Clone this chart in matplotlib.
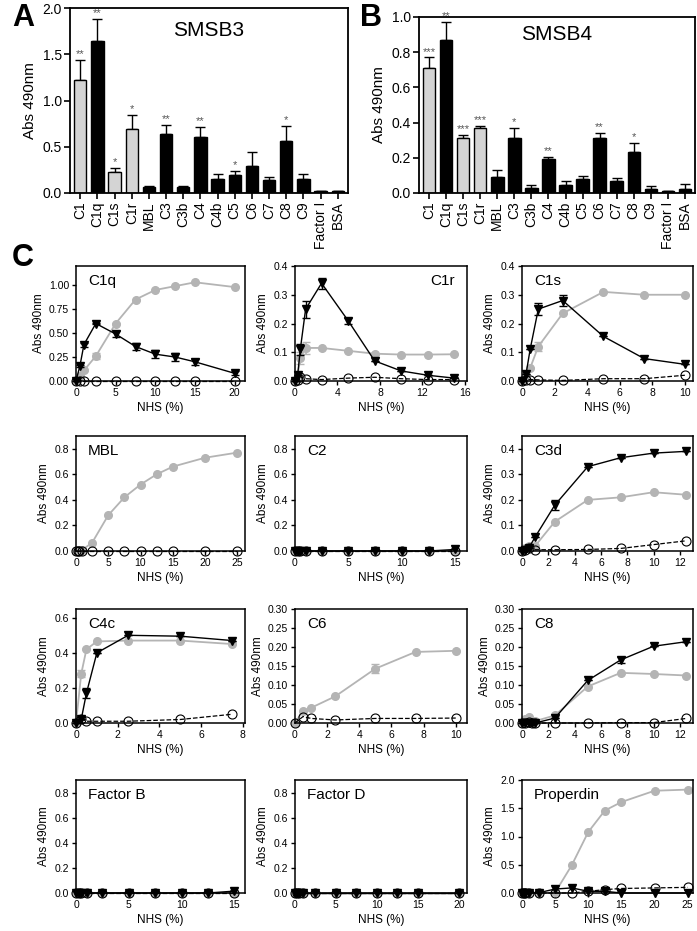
import matplotlib
matplotlib.use("Agg")
import matplotlib.pyplot as plt
import numpy as np

plt.rcParams['font.family'] = ['Liberation Sans', 'DejaVu Sans']

# ---- panels A/B: ELISA bars ----
proteins = ['C1', 'C1q', 'C1s', 'C1r', 'MBL', 'C3', 'C3b', 'C4', 'C4b', 'C5',
            'C6', 'C7', 'C8', 'C9', 'Factor I', 'BSA']
light = ['C1', 'C1s', 'C1r']

smsb3 = [1.22, 1.64, 0.23, 0.69, 0.07, 0.64, 0.07, 0.61, 0.155, 0.19,
         0.29, 0.14, 0.56, 0.155, 0.02, 0.025]
smsb3_err = [0.22, 0.24, 0.04, 0.15, 0.01, 0.09, 0.01, 0.10, 0.05, 0.045,
             0.15, 0.03, 0.16, 0.055, 0.0, 0.0]
smsb3_sig = ['**', '**', '*', '*', '', '**', '', '**', '', '*',
             '', '', '*', '', '', '']

smsb4 = [0.71, 0.87, 0.31, 0.37, 0.09, 0.31, 0.03, 0.195, 0.047, 0.078,
         0.31, 0.068, 0.235, 0.025, 0.01, 0.025]
smsb4_err = [0.06, 0.10, 0.02, 0.01, 0.04, 0.06, 0.015, 0.01, 0.021, 0.02,
             0.03, 0.019, 0.05, 0.015, 0.0, 0.025]
smsb4_sig = ['***', '**', '***', '***', '', '*', '', '**', '', '',
             '**', '', '*', '', '', '']

# ---- panel C: titration with NHS (%) ----
# each panel: x, black triangles, grey circles, open circles (None = not shown)
c1q_x = [0, 0.5, 1, 2.5, 5, 7.5, 10, 12.5, 15, 20]
c1q_tri = [0, 0.16, 0.38, 0.60, 0.49, 0.36, 0.28, 0.25, 0.20, 0.08]
c1q_tri_err = [0, 0.01, 0.02, 0.01, 0.03, 0.04, 0.04, 0.04, 0.03, 0.02]
c1q_grey = [0, 0.05, 0.11, 0.26, 0.60, 0.85, 0.95, 0.99, 1.03, 0.98]
c1q_grey_err = [0, 0, 0.01, 0.03, 0.01, 0, 0, 0, 0, 0]
c1q_open = [0, 0, 0, 0, 0, 0, 0, 0, 0, 0]

c1r_x = [0, 0.25, 0.5, 1, 2.5, 5, 7.5, 10, 12.5, 15]
c1r_tri = [0, 0.02, 0.11, 0.25, 0.34, 0.21, 0.07, 0.035, 0.02, 0.01]
c1r_tri_err = [0, 0, 0.02, 0.03, 0.02, 0.01, 0, 0, 0, 0]
c1r_grey = [0, 0.02, 0.08, 0.115, 0.115, 0.105, 0.095, 0.092, 0.092, 0.093]
c1r_grey_err = [0, 0, 0.02, 0.02, 0, 0, 0, 0, 0, 0]
c1r_open = [0, 0.003, 0.015, 0.008, 0.005, 0.01, 0.013, 0.008, 0.005, 0.005]

c1s_x = [0, 0.25, 0.5, 1, 2.5, 5, 7.5, 10]
c1s_tri = [0, 0.025, 0.11, 0.25, 0.28, 0.155, 0.078, 0.058]
c1s_tri_err = [0, 0, 0, 0.02, 0.02, 0, 0, 0]
c1s_grey = [0, 0.01, 0.045, 0.12, 0.235, 0.31, 0.30, 0.30]
c1s_grey_err = [0, 0, 0, 0.015, 0, 0, 0, 0]
c1s_open = [0, 0.005, 0.005, 0.004, 0.002, 0.008, 0.008, 0.02]

mbl_x = [0, 0.25, 0.5, 1, 2.5, 5, 7.5, 10, 12.5, 15, 20, 25]
mbl_grey = [0, 0, 0.005, 0.01, 0.065, 0.28, 0.42, 0.52, 0.60, 0.66, 0.73, 0.77]
mbl_open = [0, 0, 0, 0, 0, 0, 0, 0, 0, 0, 0, 0]

c2_x = [0, 0.25, 0.5, 1, 2.5, 5, 7.5, 10, 12.5, 15]
c2_tri = [0, 0, 0, 0, 0, 0, 0, 0, 0, 0.012]
c2_grey = [0, 0, 0, 0, 0, 0, 0, 0, 0, 0]
c2_open = [0, 0, 0, 0, 0, 0, 0, 0, 0, 0]

c3d_x = [0, 0.25, 0.5, 1, 2.5, 5, 7.5, 10, 12.5]
c3d_tri = [0, 0.003, 0.01, 0.055, 0.18, 0.33, 0.365, 0.383, 0.39]
c3d_tri_err = [0, 0, 0, 0, 0.02, 0, 0, 0, 0]
c3d_grey = [0, 0.01, 0.02, 0.02, 0.115, 0.20, 0.21, 0.23, 0.22]
c3d_open = [0, 0.005, 0.01, 0.005, 0.005, 0.006, 0.01, 0.025, 0.04]

c4c_x = [0, 0.25, 0.5, 1, 2.5, 5, 7.5]
c4c_tri = [0, 0.02, 0.17, 0.40, 0.50, 0.495, 0.47]
c4c_tri_err = [0, 0, 0.03, 0, 0, 0, 0]
c4c_grey = [0, 0.28, 0.42, 0.465, 0.47, 0.47, 0.45]
c4c_grey_err = [0, 0.02, 0, 0, 0, 0, 0]
c4c_open = [0, 0.025, 0.01, 0.01, 0.01, 0.02, 0.05]

c6_x = [0, 0.5, 1, 2.5, 5, 7.5, 10]
c6_grey = [0, 0.032, 0.04, 0.07, 0.143, 0.187, 0.19]
c6_grey_err = [0, 0, 0, 0, 0.012, 0, 0]
c6_open = [0, 0.017, 0.012, 0.008, 0.012, 0.012, 0.013]

c8_x = [0, 0.25, 0.5, 0.75, 1, 2.5, 5, 7.5, 10, 12.5]
c8_tri = [0, 0, 0, 0, 0, 0.013, 0.112, 0.166, 0.202, 0.214]
c8_tri_err = [0, 0, 0, 0, 0, 0, 0, 0.008, 0, 0]
c8_grey = [0, 0.01, 0.016, 0.005, 0.005, 0.02, 0.096, 0.132, 0.129, 0.125]
c8_open = [0, 0, 0.002, 0, 0, 0, 0, 0.001, 0.001, 0.012]

fb_x = [0, 0.25, 0.5, 1, 2.5, 5, 7.5, 10, 12.5, 15]
fb_tri = [0, 0, 0, 0, 0, 0, 0, 0, 0, 0.015]
fb_grey = [0, 0, 0, 0, 0, 0, 0, 0, 0, 0]
fb_open = [0, 0, 0, 0, 0, 0, 0, 0, 0, 0]

fd_x = [0, 0.25, 0.5, 1, 2.5, 5, 7.5, 10, 12.5, 15, 20]
fd_tri = [0, 0, 0, 0, 0, 0, 0, 0, 0, 0, 0]
fd_grey = [0, 0, 0, 0, 0, 0, 0, 0, 0, 0, 0]
fd_open = [0, 0, 0, 0, 0, 0, 0, 0, 0, 0, 0]

prop_x = [0, 0.25, 0.5, 1, 2.5, 5, 7.5, 10, 12.5, 15, 20, 25]
prop_tri = [0, 0, 0, 0, 0.005, 0.07, 0.09, 0.03, 0.03, 0, 0, 0]
prop_grey = [0, 0, 0, 0, 0, 0.01, 0.49, 1.08, 1.46, 1.61, 1.81, 1.83]
prop_open = [0, 0, 0, 0, 0, 0, 0, 0.03, 0.06, 0.08, 0.09, 0.10]

GREY = '#b4b4b4'
BARGREY = '#d4d4d4'
W, H = 697, 931

fig = plt.figure(figsize=(W / 100, H / 100), dpi=100)


def px_axes(left, top, right, bottom):
    return fig.add_axes([left / W, 1 - bottom / H, (right - left) / W, (bottom - top) / H])


def bar_panel(ax, vals, errs, sig, title, ymax, yticks):
    x = np.arange(len(proteins))
    colors = [BARGREY if p in light else 'black' for p in proteins]
    ax.bar(x, vals, width=0.72, color=colors, edgecolor='black', linewidth=1.0, zorder=2)
    ax.errorbar(x, vals, yerr=[np.zeros(len(vals)), errs], fmt='none', ecolor='black',
                elinewidth=1.0, capsize=3.5, capthick=1.0, zorder=1)
    for xi, v, e, s in zip(x, vals, errs, sig):
        if s:
            ax.text(xi, v + e + ymax * 0.005, s, ha='center', va='bottom', fontsize=8,
                    color='#555555')
    ax.set_xlim(-0.6, len(proteins) - 0.4)
    ax.set_ylim(0, ymax)
    ax.set_yticks(yticks)
    ax.set_yticklabels(['%.1f' % t for t in yticks], fontsize=10)
    ax.set_xticks(x)
    ax.set_xticklabels(proteins, rotation=90, fontsize=10)
    ax.set_ylabel('Abs 490nm', fontsize=11)
    ax.text(0.5, 0.88 if ymax > 1 else 0.9, title, transform=ax.transAxes, ha='center',
            va='center', fontsize=15)
    for sp in ax.spines.values():
        sp.set_linewidth(1.3)
    ax.tick_params(direction='out', length=4, width=1.2, pad=2)


axA = px_axes(70, 8, 348, 193)
bar_panel(axA, smsb3, smsb3_err, smsb3_sig, 'SMSB3', 2.0, [0, 0.5, 1.0, 1.5, 2.0])
axB = px_axes(419, 17, 695, 193)
bar_panel(axB, smsb4, smsb4_err, smsb4_sig, 'SMSB4', 1.0, [0, 0.2, 0.4, 0.6, 0.8, 1.0])

fig.text(12 / W, 1 - 18 / H, 'A', fontsize=22, fontweight='bold', ha='left', va='center')
fig.text(360 / W, 1 - 18 / H, 'B', fontsize=22, fontweight='bold', ha='left', va='center')
fig.text(12 / W, 1 - 258 / H, 'C', fontsize=22, fontweight='bold', ha='left', va='center')


def line_panel(ax, name, x, tri=None, tri_err=None, grey=None, grey_err=None, opn=None,
               xmax=10, xticks=None, ymax=0.4, yticks=None, yfmt='%.1f', name_right=False):
    if grey is not None:
        ax.errorbar(x, grey, yerr=grey_err, color=GREY, marker='o', ms=5.5, mec=GREY,
                    lw=1.3, elinewidth=1.2, capsize=3, clip_on=False, zorder=2)
    if tri is not None:
        ax.errorbar(x, tri, yerr=tri_err, color='black', marker='v', ms=5.5, lw=1.0,
                    elinewidth=1.0, capsize=3, clip_on=False, zorder=3)
    if opn is not None:
        ax.plot(x, opn, color='black', ls='--', lw=0.9, marker='o', ms=6.5,
                mfc='none', mec='black', mew=0.8, clip_on=False, zorder=4)
    ax.set_xlim(0, xmax)
    ax.set_ylim(0, ymax)
    ax.set_xticks(xticks)
    ax.set_xticklabels([str(t) for t in xticks], fontsize=7.5)
    ax.set_yticks(yticks)
    ax.set_yticklabels([yfmt % t for t in yticks], fontsize=7.5)
    ax.set_xlabel('NHS (%)', fontsize=8.5, labelpad=3)
    ax.set_ylabel('Abs 490nm', fontsize=8.5, labelpad=3)
    for sp in ax.spines.values():
        sp.set_linewidth(1.1)
    ax.tick_params(direction='out', length=3, width=1.0, pad=2)
    if name_right:
        ax.text(0.93, 0.87, name, transform=ax.transAxes, ha='right', va='center', fontsize=11)
    else:
        ax.text(0.07, 0.87, name, transform=ax.transAxes, ha='left', va='center', fontsize=11)


col_l = [76, 295, 522]
col_r = [245, 467, 693]
row_t = [266, 436, 609, 780]
row_b = [381, 551, 723, 893]


def cell(r, c):
    return px_axes(col_l[c], row_t[r], col_r[c], row_b[r])


line_panel(cell(0, 0), 'C1q', c1q_x, c1q_tri, c1q_tri_err, c1q_grey, c1q_grey_err, c1q_open,
           xmax=21.3, xticks=[0, 5, 10, 15, 20], ymax=1.2,
           yticks=[0, 0.25, 0.5, 0.75, 1.0], yfmt='%.2f')
line_panel(cell(0, 1), 'C1r', c1r_x, c1r_tri, c1r_tri_err, c1r_grey, c1r_grey_err, c1r_open,
           xmax=16.2, xticks=[0, 4, 8, 12, 16], ymax=0.4,
           yticks=[0, 0.1, 0.2, 0.3, 0.4], name_right=True)
line_panel(cell(0, 2), 'C1s', c1s_x, c1s_tri, c1s_tri_err, c1s_grey, c1s_grey_err, c1s_open,
           xmax=10.5, xticks=[0, 2, 4, 6, 8, 10], ymax=0.4,
           yticks=[0, 0.1, 0.2, 0.3, 0.4])

line_panel(cell(1, 0), 'MBL', mbl_x, None, None, mbl_grey, None, mbl_open,
           xmax=26.2, xticks=[0, 5, 10, 15, 20, 25], ymax=0.9,
           yticks=[0, 0.2, 0.4, 0.6, 0.8])
line_panel(cell(1, 1), 'C2', c2_x, c2_tri, None, c2_grey, None, c2_open,
           xmax=16.1, xticks=[0, 5, 10, 15], ymax=0.9,
           yticks=[0, 0.2, 0.4, 0.6, 0.8])
line_panel(cell(1, 2), 'C3d', c3d_x, c3d_tri, c3d_tri_err, c3d_grey, None, c3d_open,
           xmax=13.0, xticks=[0, 2, 4, 6, 8, 10, 12], ymax=0.45,
           yticks=[0, 0.1, 0.2, 0.3, 0.4])

line_panel(cell(2, 0), 'C4c', c4c_x, c4c_tri, c4c_tri_err, c4c_grey, c4c_grey_err, c4c_open,
           xmax=8.1, xticks=[0, 2, 4, 6, 8], ymax=0.65,
           yticks=[0, 0.2, 0.4, 0.6])
line_panel(cell(2, 1), 'C6', c6_x, None, None, c6_grey, c6_grey_err, c6_open,
           xmax=10.7, xticks=[0, 2, 4, 6, 8, 10], ymax=0.30,
           yticks=[0, 0.05, 0.10, 0.15, 0.20, 0.25, 0.30], yfmt='%.2f')
line_panel(cell(2, 2), 'C8', c8_x, c8_tri, c8_tri_err, c8_grey, None, c8_open,
           xmax=13.0, xticks=[0, 2, 4, 6, 8, 10, 12], ymax=0.30,
           yticks=[0, 0.05, 0.10, 0.15, 0.20, 0.25, 0.30], yfmt='%.2f')

line_panel(cell(3, 0), 'Factor B', fb_x, fb_tri, None, fb_grey, None, fb_open,
           xmax=16.0, xticks=[0, 5, 10, 15], ymax=0.9,
           yticks=[0, 0.2, 0.4, 0.6, 0.8])
line_panel(cell(3, 1), 'Factor D', fd_x, fd_tri, None, fd_grey, None, fd_open,
           xmax=21.0, xticks=[0, 5, 10, 15, 20], ymax=0.9,
           yticks=[0, 0.2, 0.4, 0.6, 0.8])
line_panel(cell(3, 2), 'Properdin', prop_x, prop_tri, None, prop_grey, None, prop_open,
           xmax=25.8, xticks=[0, 5, 10, 15, 20, 25], ymax=2.0,
           yticks=[0, 0.5, 1.0, 1.5, 2.0])

fig.savefig('out.png', dpi=100)
